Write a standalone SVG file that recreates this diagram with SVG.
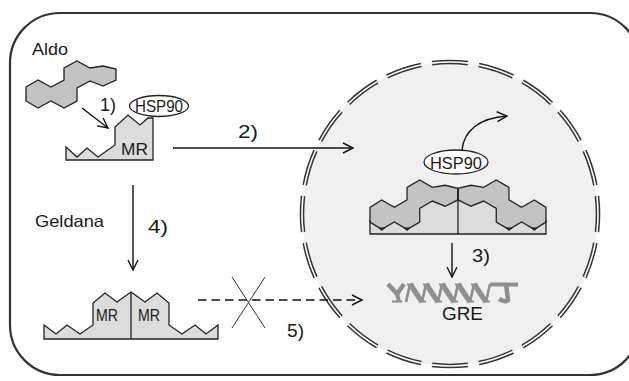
<svg xmlns="http://www.w3.org/2000/svg" width="629" height="381" viewBox="0 0 629 381">
  <defs>
    <style>
      .lbl { font-family: "Liberation Sans", Arial, sans-serif; fill: #1a1a1a; }
      .num { font-size: 19px; }
      .name { font-size: 16.5px; }
      .ln { fill: none; stroke: #111; stroke-width: 1.4; }
      .shape { stroke: #222; stroke-width: 1.3; stroke-linejoin: miter; }
      .aldo { fill: #c3c3c3; }
      .mr { fill: #dcdcdc; }
      .hsp { fill: #fff; stroke: #222; stroke-width: 1.3; }
      .dna { fill: none; stroke: #8f8f8f; stroke-linecap: butt; }
    </style>
    <marker id="open" markerUnits="userSpaceOnUse" markerWidth="14" markerHeight="14" refX="11" refY="6" orient="auto" viewBox="0 0 14 12">
      <path d="M1,1 L11,6 L1,11" fill="none" stroke="#111" stroke-width="1.4"/>
    </marker>
    <!-- steroid ring skeleton, local coordinates -->
    <polygon id="steroid" class="shape aldo" points="0,26 12,19 25,26 38,19 38,7 51,0 64,7 77,5 90,8 90,19 77,25 64,20 51,27 51,40 38,47 25,40 12,47 0,40"/>
  </defs>

  <rect width="629" height="381" fill="#fff"/>

  <!-- cell outline -->
  <g id="cell">
    <rect x="10" y="13" width="630" height="362" rx="50" ry="50" fill="none" stroke="#333" stroke-width="2.2"/>
  </g>

  <!-- nucleus with double dashed envelope -->
  <g id="nucleus">
    <ellipse cx="450" cy="214" rx="148" ry="152" fill="#f0f0f0"/>
    <ellipse cx="450" cy="214" rx="148" ry="152" fill="none" stroke="#333" stroke-width="4.6" pathLength="940" stroke-dasharray="36 11" stroke-dashoffset="18"/>
    <ellipse cx="450" cy="214" rx="148" ry="152" fill="none" stroke="#fff" stroke-width="1.6" pathLength="940" stroke-dasharray="36 11" stroke-dashoffset="18"/>
  </g>

  <!-- free aldosterone -->
  <g id="aldo">
    <use href="#steroid" transform="translate(26,61)"/>
    <text class="lbl name" x="32" y="55" textLength="36" lengthAdjust="spacingAndGlyphs">Aldo</text>
  </g>

  <!-- receptor bound to HSP90 in the cytoplasm -->
  <g id="mr">
    <polygon class="shape mr" points="66,160 66,147 77,157 87,148 98,157 115,145 115,127 128,115 140,125 148,118 153,118 153,160"/>
    <text class="lbl" font-size="17" x="121" y="155" textLength="27" lengthAdjust="spacingAndGlyphs">MR</text>
  </g>
  <g id="hsp90-cyto">
    <ellipse class="hsp" cx="159" cy="106" rx="29.5" ry="10.5"/>
    <text class="lbl name" x="159" y="112" text-anchor="middle" textLength="48" lengthAdjust="spacingAndGlyphs">HSP90</text>
  </g>

  <!-- receptor dimer formed under geldanamycin -->
  <g id="mr-dimer">
    <polygon class="shape mr" points="44,339 44,325 56,334 67,325 80,334 93,325 93,303 105,293 117,302 131,292 145,302 157,293 169,303 169,325 182,334 195,325 206,334 218,325 218,339"/>
    <line class="shape" x1="131" y1="292" x2="131" y2="339"/>
    <text class="lbl" font-size="16" x="96" y="321" textLength="22" lengthAdjust="spacingAndGlyphs">MR</text>
    <text class="lbl" font-size="16" x="138" y="321" textLength="22" lengthAdjust="spacingAndGlyphs">MR</text>
  </g>

  <!-- nuclear receptor dimer with bound aldosterone -->
  <g id="complex">
    <path class="mr" d="M370,234 V210 L420,200 L458,189 L496,200 L546,210 V234 Z"/>
    <use href="#steroid" transform="translate(370,180) scale(0.975,1.05)"/>
    <use href="#steroid" transform="translate(546,180) scale(-0.975,1.05)"/>
    <path class="shape" fill="none" d="M370,220 V234 H546 V220"/>
    <line class="shape" x1="458" y1="188" x2="458" y2="234"/>
    <g fill="#222">
      <polygon points="378,227.5 385.5,227.5 381.7,231"/>
      <polygon points="403,227.5 411,227.5 407,231"/>
      <polygon points="505,227.5 513,227.5 509,231"/>
      <polygon points="530.5,227.5 538,227.5 534.3,231"/>
    </g>
  </g>
  <g id="hsp90-nuc">
    <ellipse class="hsp" cx="456" cy="162" rx="32" ry="12"/>
    <text class="lbl name" x="456" y="169" text-anchor="middle" textLength="52" lengthAdjust="spacingAndGlyphs">HSP90</text>
  </g>

  <!-- glucocorticoid response element -->
  <g id="gre">
    <g class="dna">
      <path d="M388,284 L397,294 M397,294 L404,284" stroke-width="4.5"/>
      <path d="M397,293 L399,302" stroke-width="4"/>
      <path d="M392,301.5 H402" stroke-width="2"/>
      <path d="M406,302 L410,284 M422,302 L426,284 M438,302 L442,284 M454,302 L458,284 M470,302 L474,284 M486,302 L490,284" stroke-width="2.6"/>
      <path d="M410,284 L422,302 M426,284 L438,302 M442,284 L454,302 M458,284 L470,302 M474,284 L486,302" stroke-width="5.2"/>
      <path d="M407,284.5 H414 M423,284.5 H430 M439,284.5 H446 M455,284.5 H462 M471,284.5 H478" stroke-width="2"/>
      <path d="M419,301.5 H426 M435,301.5 H442 M451,301.5 H458 M467,301.5 H474 M483,301.5 H490" stroke-width="2"/>
      <path d="M490,284.5 H518" stroke-width="4"/>
      <path d="M506,284 L508,300 Q507,303 499,299" stroke-width="4.5"/>
    </g>
    <text class="lbl" font-size="17.5" x="442" y="320" textLength="41" lengthAdjust="spacingAndGlyphs">GRE</text>
  </g>

  <!-- step connectors -->
  <g id="connectors">
    <line class="ln" x1="82" y1="108" x2="108" y2="128" marker-end="url(#open)"/>
    <line class="ln" x1="173" y1="148" x2="353" y2="148" marker-end="url(#open)"/>
    <line class="ln" x1="133" y1="185" x2="133" y2="270" marker-end="url(#open)"/>
    <line class="ln" x1="452" y1="243" x2="452" y2="277" marker-end="url(#open)"/>
    <path class="ln" d="M462,150 C464,130 480,118 507,116" marker-end="url(#open)"/>
    <line class="ln" x1="198" y1="300" x2="362" y2="300" stroke-dasharray="8.5 5" marker-end="url(#open)"/>
    <g stroke="#333" stroke-width="1">
      <line x1="232" y1="277" x2="265" y2="328"/>
      <line x1="265" y1="277" x2="232" y2="328"/>
    </g>
  </g>

  <!-- step numbers and treatment label -->
  <g id="labels">
    <text class="lbl num" x="100" y="111" textLength="16" lengthAdjust="spacingAndGlyphs">1)</text>
    <text class="lbl num" x="238" y="138" textLength="20" lengthAdjust="spacingAndGlyphs">2)</text>
    <text class="lbl num" x="472" y="262" textLength="18" lengthAdjust="spacingAndGlyphs">3)</text>
    <text class="lbl num" x="148" y="233" textLength="20" lengthAdjust="spacingAndGlyphs">4)</text>
    <text class="lbl num" x="287" y="337" textLength="17" lengthAdjust="spacingAndGlyphs">5)</text>
    <text class="lbl name" x="35" y="227" textLength="69" lengthAdjust="spacingAndGlyphs">Geldana</text>
  </g>
</svg>
